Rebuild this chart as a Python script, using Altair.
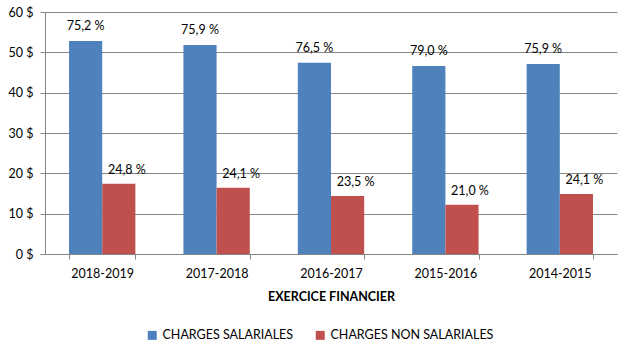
import altair as alt
import pandas as pd

exercices = ["2018-2019", "2017-2018", "2016-2017", "2015-2016", "2014-2015"]
series = ["CHARGES SALARIALES", "CHARGES NON SALARIALES"]
charges_salariales = [52.8, 51.8, 47.4, 46.6, 47.1]
charges_non_salariales = [17.4, 16.4, 14.4, 12.2, 14.9]
pct_salariales = [75.2, 75.9, 76.5, 79.0, 75.9]
pct_non_salariales = [24.8, 24.1, 23.5, 21.0, 24.1]
colors = ["#4F81BD", "#C0504D"]

FONT = "Lato"

def fmt(p):
    return f"{p:.1f} %".replace(".", ",")

rows = []
for i, ex in enumerate(exercices):
    rows.append({"exercice": ex, "serie": series[0], "valeur": charges_salariales[i], "label": fmt(pct_salariales[i])})
    rows.append({"exercice": ex, "serie": series[1], "valeur": charges_non_salariales[i], "label": fmt(pct_non_salariales[i])})
df = pd.DataFrame(rows)

x = alt.X("exercice:N", sort=exercices,
          scale=alt.Scale(paddingInner=0.42, paddingOuter=0.21),
          axis=alt.Axis(title="EXERCICE FINANCIER", labelAngle=0, tickBand="extent",
                        tickSize=5, labelPadding=8, titlePadding=11,
                        titleFontWeight="bold", titleFontSize=12.5, labelFontSize=12.5,
                        domainColor="#868686", tickColor="#868686", grid=False))
xoff = alt.XOffset("serie:N", sort=series, scale=alt.Scale(domain=series, paddingInner=0, paddingOuter=0))
y = alt.Y("valeur:Q", scale=alt.Scale(domain=[0, 60], nice=False),
          axis=alt.Axis(title=None, values=[0, 10, 20, 30, 40, 50, 60],
                        labelExpr="datum.value + ' $'", tickSize=5, labelPadding=7,
                        labelFontSize=12.5, gridColor="#868686", domainColor="#868686",
                        tickColor="#868686"))
color = alt.Color("serie:N", sort=series,
                  scale=alt.Scale(domain=series, range=colors),
                  legend=alt.Legend(title=None, orient="none", direction="horizontal",
                                    legendX=101, legendY=317, symbolType="square",
                                    symbolSize=81, symbolStrokeWidth=0, labelFontSize=12.5,
                                    labelLimit=400, columnPadding=20, labelOffset=4, padding=0))

bars = alt.Chart(df).mark_bar().encode(x=x, xOffset=xoff, y=y, color=color)

lab_sal = alt.Chart(df).transform_filter(alt.datum.serie == series[0]).mark_text(
    baseline="bottom", dy=-8, fontSize=12.5, font=FONT, color="black"
).encode(x=alt.X("exercice:N", sort=exercices), xOffset=xoff, y="valeur:Q", text="label:N")

lab_non = alt.Chart(df).transform_filter(alt.datum.serie == series[1]).mark_text(
    baseline="bottom", dy=-7, dx=8, fontSize=12.5, font=FONT, color="black"
).encode(x=alt.X("exercice:N", sort=exercices), xOffset=xoff, y="valeur:Q", text="label:N")

chart = alt.layer(bars, lab_sal, lab_non).properties(
    width=572, height=242,
    autosize=alt.AutoSizeParams(type="none"),
    padding={"left": 45, "top": 12, "right": 13, "bottom": 97},
).configure(font=FONT).configure_view(stroke=None).configure_axis(
    labelColor="black", titleColor="black", labelFont=FONT, titleFont=FONT
).configure_legend(labelColor="black", labelFont=FONT)

chart.save("out.html", embed_options={"renderer": "svg", "actions": False})
